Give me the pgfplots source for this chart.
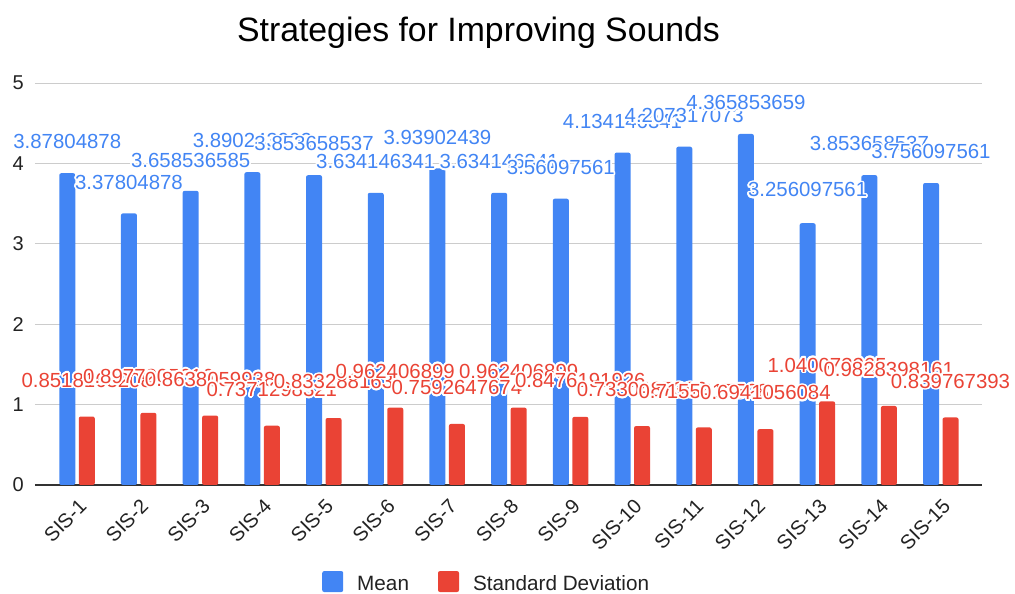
\documentclass[border=0pt]{standalone}
\usepackage{pgfplots}
\pgfplotsset{compat=1.18}
\usepackage{pgfplotstable}
\usepackage{fontspec}
\usepackage{contour}
\setmainfont{Liberation Sans}
\contourlength{1.6pt}
\contournumber{24}

\definecolor{meanblue}{HTML}{4285F4}
\definecolor{sdred}{HTML}{EA4335}
\definecolor{gridgray}{HTML}{CCCCCC}
\definecolor{basegray}{HTML}{333333}
\definecolor{inkgray}{HTML}{222222}

% x: item, m: mean, s: standard deviation,
% lm / ls: extra lift (pt) of a value label that had to move out of the way
\pgfplotstableread{
x  m            lm  s             ls
1  3.87804878   0   0.8518163208  0
2  3.37804878   0   0.8977205616  0
3  3.658536585  -1  0.8638059938  0
4  3.890243902  0   0.7371298321  0
5  3.853658537  0   0.833288163   0
6  3.634146341  0   0.962406899   0
7  3.93902439   0   0.7592647674  0
8  3.634146341  0   0.962406899   0
9  3.56097561   0   0.8476191926  0
10 4.134146341  0   0.7330487382  0
11 4.207317073  0   0.7155417528  0
12 4.365853659  0   0.6941056084  0
13 3.256097561  2   1.040073265   0
14 3.853658537  0   0.9828398161  0
15 3.756097561  0   0.839767393   0
}\sis

\begin{document}
\begin{tikzpicture}
\useasboundingbox (-35pt,-109pt) rectangle (980pt,485pt);
\begin{axis}[
  at={(0pt,0pt)}, anchor=south west,
  scale only axis, width=947pt, height=402pt,
  xmin=0.319, xmax=15.668, ymin=0, ymax=5,
  clip=false,
  axis line style={draw=none},
  major tick length=0pt,
  ytick={1,2,3,4,5},
  ymajorgrids,
  grid style={gridgray, line width=1pt},
  extra y ticks={0},
  extra y tick style={grid style={basegray, line width=1.3pt}},
  xtick={1,...,15},
  xticklabels={SIS-1,SIS-2,SIS-3,SIS-4,SIS-5,SIS-6,SIS-7,SIS-8,SIS-9,SIS-10,SIS-11,SIS-12,SIS-13,SIS-14,SIS-15},
  /pgf/number format/assume math mode=true,
  tick label style={font=\fontsize{20}{24}\selectfont, text=inkgray},
  yticklabel style={anchor=east, inner sep=0pt, xshift=-11pt},
  xticklabel style={xshift=6pt, yshift=-18pt, rotate=45, anchor=east, inner sep=0pt},
  title={Strategies for Improving Sounds},
  title style={at={(0.4683,1.0883)}, anchor=base, inner sep=0pt,
    font=\fontsize{33.8}{40}\selectfont, text=black},
  legend columns=2,
  legend style={at={(0.3031,-0.2405)}, anchor=west, draw=none, fill=none,
    inner sep=0pt, nodes={inner sep=0pt},
    font=\fontsize{20.7}{24}\selectfont, text=inkgray,
    /tikz/every odd column/.append style={column sep=14pt},
    /tikz/every even column/.append style={column sep=29pt}},
]
\addplot[ybar, bar width=16pt, bar shift=-9.75pt, fill=meanblue, draw=none,
  rounded corners=2pt,
  legend image code/.code={\fill[meanblue, rounded corners=2pt] (0pt,-8pt) rectangle (21pt,13pt);},
  point meta=explicit symbolic,
  visualization depends on={\thisrow{lm} \as \lift},
  nodes near coords={\contour{white}{\pgfplotspointmeta}},
  nodes near coords style={anchor=center, inner sep=0pt, rounded corners=0pt,
    xshift=-9.75pt, yshift={(30.5+\lift)*1pt},
    text=meanblue, font=\fontsize{20.4}{24}\selectfont},
] table[x=x, y=m, meta=m] {\sis};
\addlegendentry{Mean}
\addplot[ybar, bar width=16pt, bar shift=9.75pt, fill=sdred, draw=none,
  rounded corners=2pt,
  legend image code/.code={\fill[sdred, rounded corners=2pt] (0pt,-8pt) rectangle (21pt,13pt);},
  point meta=explicit symbolic,
  visualization depends on={\thisrow{ls} \as \lift},
  nodes near coords={\contour{white}{\pgfplotspointmeta}},
  nodes near coords style={anchor=center, inner sep=0pt, rounded corners=0pt,
    xshift=9.75pt, yshift={(35.5+\lift)*1pt},
    text=sdred, font=\fontsize{20.4}{24}\selectfont},
] table[x=x, y=s, meta=s] {\sis};
\addlegendentry{Standard Deviation}
\end{axis}
\end{tikzpicture}
\end{document}
